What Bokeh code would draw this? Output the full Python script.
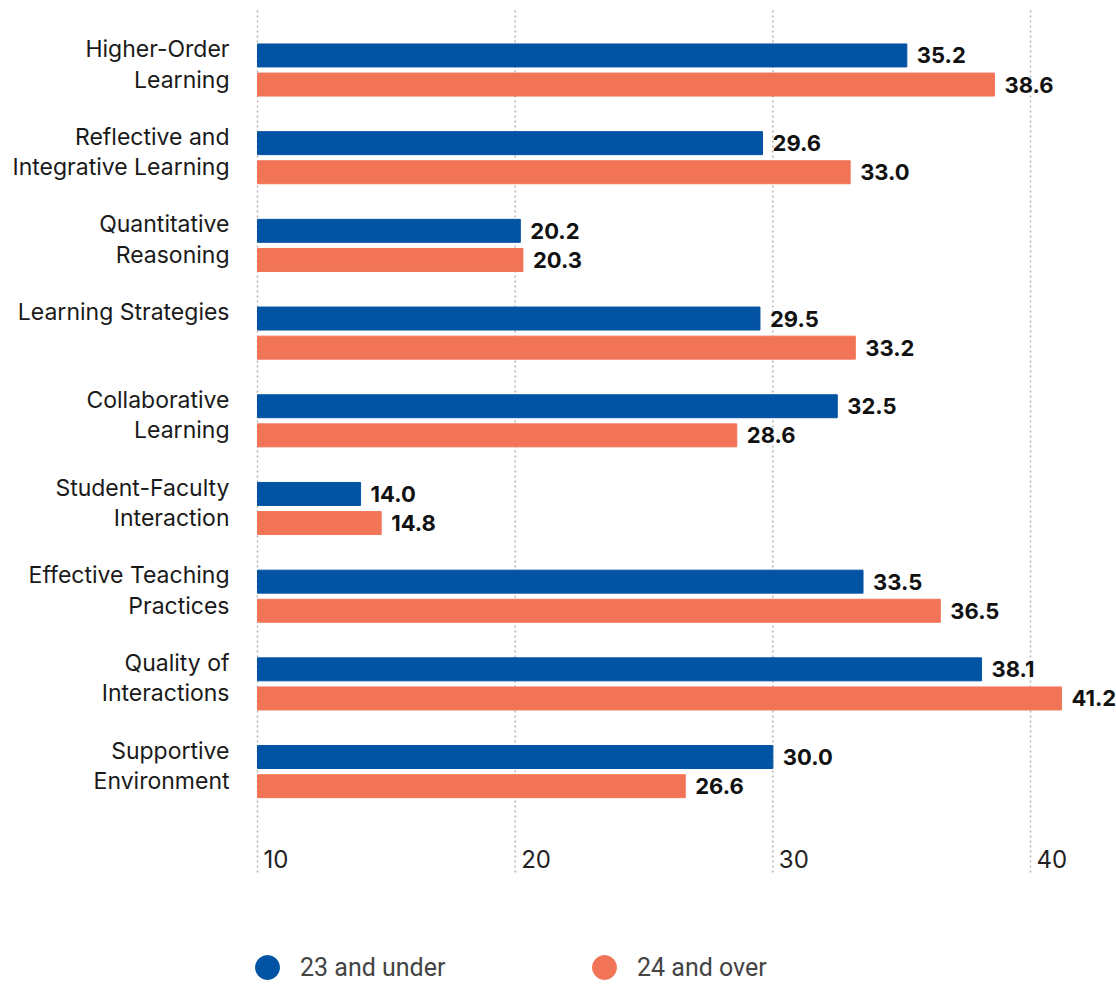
from bokeh.plotting import figure
from bokeh.models import ColumnDataSource, Range1d, Legend, LegendItem
from bokeh.transform import dodge
from bokeh.core.properties import value
from bokeh.embed import file_html
from bokeh.resources import INLINE

categories = ["Higher-Order\nLearning", "Reflective and\nIntegrative Learning",
              "Quantitative\nReasoning", "Learning Strategies",
              "Collaborative\nLearning", "Student-Faculty\nInteraction",
              "Effective Teaching\nPractices", "Quality of\nInteractions",
              "Supportive\nEnvironment"]
under23 = [35.2, 29.6, 20.2, 29.5, 32.5, 14.0, 33.5, 38.1, 30.0]
over24 = [38.6, 33.0, 20.3, 33.2, 28.6, 14.8, 36.5, 41.2, 26.6]
series_names = ["23 and under", "24 and over"]
x_ticks = [10, 20, 30, 40]

BLUE = "#0353A4"
ORANGE = "#F27457"
FONT = "Inter"

x_min = 10
x_start = 0.026
x_end = 43.337
y_top = -0.7925
y_bottom = 10.439
grid_top = -0.678
grid_bottom = 9.185

idx = list(range(len(categories)))
src = ColumnDataSource(dict(
    idx=idx, cat=categories, x0=[x_min] * len(idx),
    a=under23, b=over24,
    al=[f"{v:.1f}" for v in under23], bl=[f"{v:.1f}" for v in over24],
))

p = figure(width=1116, height=985, output_backend="svg", toolbar_location=None,
           x_range=Range1d(x_start, x_end), y_range=Range1d(y_bottom, y_top),
           min_border_left=0, min_border_right=0, min_border_top=0,
           min_border_bottom=0, outline_line_color=None)
p.xaxis.visible = False
p.yaxis.visible = False
p.grid.visible = False

# dotted vertical grid lines at the x ticks
p.segment(x0=x_ticks, x1=x_ticks, y0=[grid_top] * len(x_ticks),
          y1=[grid_bottom] * len(x_ticks), line_color="#b5b5b5",
          line_dash="2 3", line_width=1.5)

off = 0.166
h = 0.262
p.hbar(y=dodge("idx", -off, range=p.y_range), left="x0", right="a", height=h,
       source=src, color=BLUE)
p.hbar(y=dodge("idx", off, range=p.y_range), left="x0", right="b", height=h,
       source=src, color=ORANGE)

p.text(x="a", y=dodge("idx", -off, range=p.y_range), text="al", source=src,
       x_offset=10, text_baseline="middle", text_font=value(FONT),
       text_font_style="bold", text_font_size="22px", text_color="#111111")
p.text(x="b", y=dodge("idx", off, range=p.y_range), text="bl", source=src,
       x_offset=10, text_baseline="middle", text_font=value(FONT),
       text_font_style="bold", text_font_size="22px", text_color="#111111")

# x tick labels drawn inside the plot, right of each grid line
p.text(x=x_ticks, y=[grid_bottom] * len(x_ticks), text=[str(t) for t in x_ticks],
       x_offset=6, y_offset=-17, text_baseline="alphabetic",
       text_font=value(FONT), text_font_size="24px", text_color="#222222")

# category labels, right-aligned left of the bars
p.text(x="x0", y="idx", text="cat", source=src, x_offset=-28, y_offset=-35,
       text_align="right", text_baseline="top", text_font=value(FONT),
       text_font_size="23px", text_line_height=1.09, text_color="#1a1a1a")

nan = float("nan")
r1 = p.scatter(x=[nan], y=[nan], marker="circle", size=22, color=BLUE)
r2 = p.scatter(x=[nan], y=[nan], marker="circle", size=22, color=ORANGE)
legend = Legend(items=[LegendItem(label=series_names[0], renderers=[r1]),
                       LegendItem(label=series_names[1], renderers=[r2])],
                orientation="horizontal", location=(237, -12),
                glyph_width=60, glyph_height=60, label_standoff=3,
                label_width=200, spacing=74,
                label_text_font="Roboto", label_text_font_size="25px",
                border_line_color=None, background_fill_alpha=0,
                padding=0, margin=0)
p.add_layout(legend, "center")

open("out.html", "w").write(file_html(p, INLINE))
